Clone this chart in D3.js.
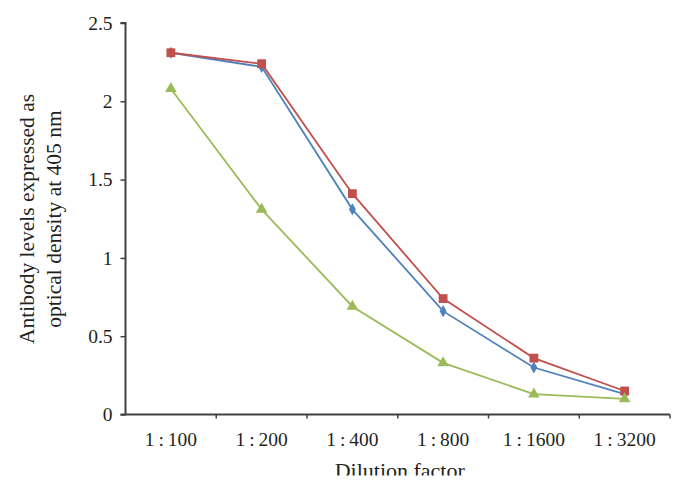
<!DOCTYPE html>
<html>
<head>
<meta charset="utf-8">
<script src="https://cdn.jsdelivr.net/npm/d3@7"></script>
<style>
  html, body { margin: 0; padding: 0; background: #fff; }
  svg { display: block; }
  text { font-family: "Liberation Serif", "DejaVu Serif", serif; fill: #231f20; }
</style>
</head>
<body>
<svg id="chart" width="686" height="490"></svg>
<script>
const categories = ["1:100", "1:200", "1:400", "1:800", "1:1600", "1:3200"];
const blueValues  = [2.31, 2.22, 1.31, 0.66, 0.30, 0.13];
const redValues   = [2.31, 2.24, 1.41, 0.74, 0.36, 0.15];
const greenValues = [2.08, 1.31, 0.69, 0.33, 0.13, 0.10];
const yTicks = [0, 0.5, 1, 1.5, 2, 2.5];
const yTickLabels = ["0", "0.5", "1", "1.5", "2", "2.5"];
const xTitle = "Dilution factor";
const yTitleLines = ["Antibody levels expressed as", "optical density at 405 nm"];

const svg = d3.select("#chart");
const mLeft = 125.5, mRight = 670, mTop = 23, mBottom = 414.5;

const x = d3.scaleBand().domain(categories).range([mLeft, mRight]).paddingInner(0).paddingOuter(0);
const y = d3.scaleLinear().domain([0, 2.5]).range([mBottom, mTop]);

const axisColor = "#404040";

// Y axis
const yAxis = d3.axisLeft(y).tickValues(yTicks).tickSize(5).tickFormat((d, i) => yTickLabels[i]);
const gy = svg.append("g").attr("transform", `translate(${mLeft},0)`).call(yAxis);
gy.select(".domain").attr("stroke", axisColor).attr("stroke-width", 2).attr("d", `M-5,${mTop}H0V${mBottom}`);
gy.selectAll(".tick line").attr("stroke", axisColor).attr("stroke-width", 1.5);
gy.selectAll(".tick text").attr("font-size", 19.5).attr("x", -13)
  .style("font-family", "'Liberation Serif', serif").attr("fill", "#231f20");

// X axis with tick marks at band boundaries
const gx = svg.append("g").attr("transform", `translate(0,${mBottom})`);
gx.append("line").attr("x1", mLeft - 5).attr("x2", mRight).attr("y1", 0).attr("y2", 0)
  .attr("stroke", axisColor).attr("stroke-width", 2);
const boundaries = categories.map(c => x(c)).concat([mRight]);
gx.selectAll("line.tk").data(boundaries.slice(1)).join("line").attr("class", "tk")
  .attr("x1", d => d).attr("x2", d => d).attr("y1", 0).attr("y2", 4)
  .attr("stroke", axisColor).attr("stroke-width", 1.5);
const xl = gx.selectAll("text.xl").data(categories).join("text").attr("class", "xl")
  .attr("x", d => x(d) + x.bandwidth() / 2).attr("y", 31)
  .attr("text-anchor", "middle").attr("font-size", 19.5);
xl.each(function(d) {
  const parts = d.split(":");
  const t = d3.select(this);
  t.append("tspan").text(parts[0]);
  t.append("tspan").attr("dx", 4).text(":");
  t.append("tspan").attr("dx", 4).text(parts[1]);
});

// Axis titles (x title is clipped at the bottom, as in the reference)
svg.append("clipPath").attr("id", "xtclip")
  .append("rect").attr("x", 0).attr("y", 440).attr("width", 686).attr("height", 35.5);
svg.append("text").attr("x", (mLeft + mRight) / 2 + 2).attr("y", 478)
  .attr("clip-path", "url(#xtclip)")
  .attr("text-anchor", "middle").attr("font-size", 22).text(xTitle);
yTitleLines.forEach((line, i) => {
  svg.append("text")
    .attr("transform", `translate(${34 + i * 27},219) rotate(-90)`)
    .attr("text-anchor", "middle").attr("font-size", 21.5).text(line);
});

// Series
const series = [
  { name: "blue", values: blueValues, color: "#4F81BD", marker: d3.symbolDiamond, size: 42 },
  { name: "red", values: redValues, color: "#C0504D", marker: d3.symbolSquare, size: 78 },
  { name: "green", values: greenValues, color: "#9BBB59", marker: d3.symbolTriangle, size: 58 }
];
const cx = c => x(c) + x.bandwidth() / 2;
const lineGen = d3.line().x((d, i) => cx(categories[i])).y(d => y(d));

series.forEach(s => {
  svg.append("path").datum(s.values).attr("d", lineGen)
    .attr("fill", "none").attr("stroke", s.color).attr("stroke-width", 1.8);
});
series.forEach(s => {
  svg.append("g").selectAll("path").data(s.values).join("path")
    .attr("d", d3.symbol().type(s.marker).size(s.size))
    .attr("transform", (d, i) => `translate(${cx(categories[i])},${y(d)})`)
    .attr("fill", s.color);
});
</script>
</body>
</html>
